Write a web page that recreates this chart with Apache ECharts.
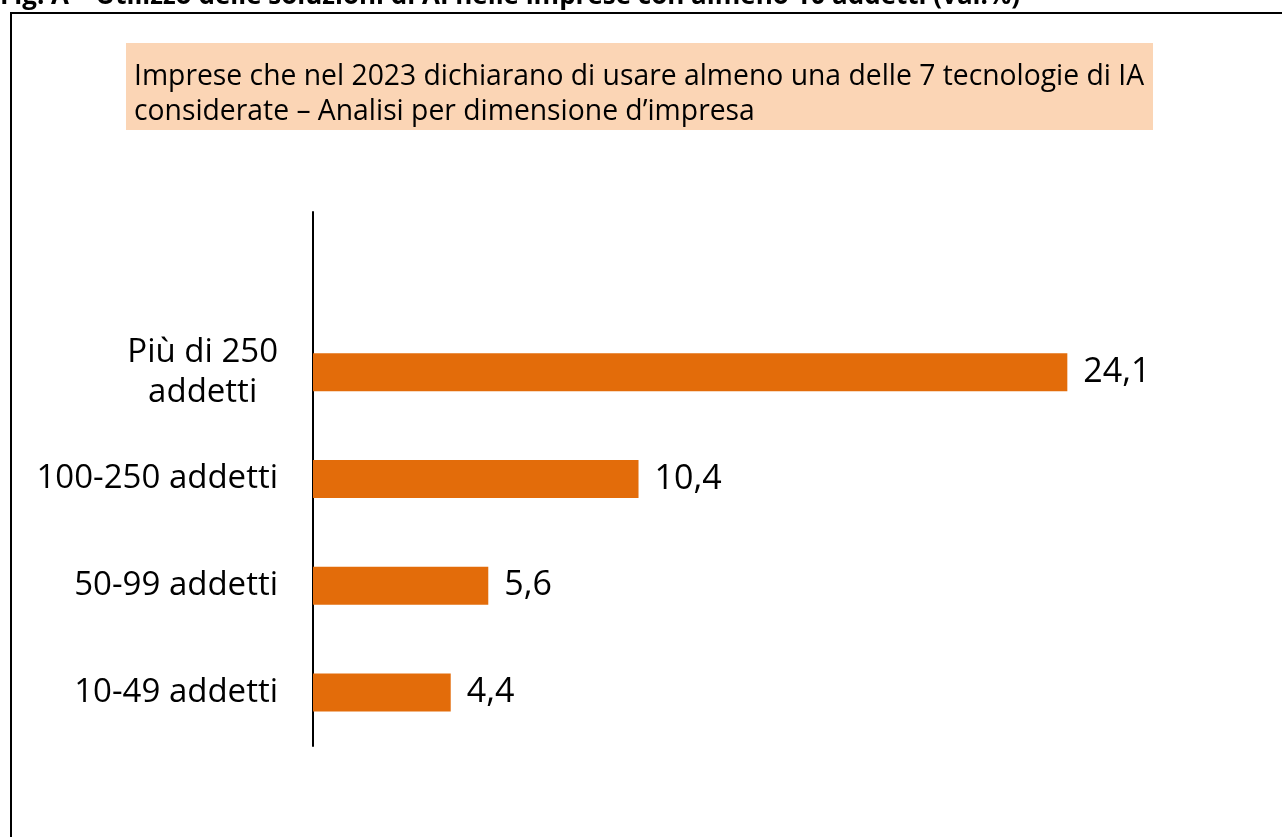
<!DOCTYPE html>
<html>
<head>
<meta charset="utf-8">
<script src="https://cdn.jsdelivr.net/npm/echarts@6/dist/echarts.min.js"></script>
<style>
  html, body { margin: 0; padding: 0; background: #ffffff; }
  #chart { width: 1282px; height: 837px; }
</style>
</head>
<body>
<div id="chart"></div>
<script>
// Firm-size classes (top to bottom); the leading blank slot leaves room above the first bar
const categories = ['', 'Più di 250\naddetti', '100-250 addetti', '50-99 addetti', '10-49 addetti'];
// Share of firms using at least one AI technology in 2023 (%)
const values = [null, 24.1, 10.4, 5.6, 4.4];

const figureTitle = 'Fig. A – Utilizzo delle soluzioni di AI nelle imprese con almeno 10 addetti (val.%)';
const boxTitle = 'Imprese che nel 2023 dichiarano di usare almeno una delle 7 tecnologie di IA\nconsiderate – Analisi per dimensione d’impresa';

const FONT = '"Open Sans", "Noto Sans", sans-serif';

const chart = echarts.init(document.getElementById('chart'), null, { renderer: 'canvas' });

chart.setOption({
  backgroundColor: '#ffffff',
  animation: false,
  textStyle: { fontFamily: FONT },
  graphic: [
    // figure caption, clipped at the top edge
    {
      type: 'text', left: 0, top: -16, z: 10,
      style: { text: figureTitle, font: 'bold 26px ' + FONT, fill: '#000000' }
    },
    // frame around the chart
    {
      type: 'rect', z: 5,
      shape: { x: 11, y: 13, width: 1300, height: 900 },
      style: { fill: 'none', stroke: '#000000', lineWidth: 2 }
    },
    // shaded title box
    {
      type: 'rect', z: 6,
      shape: { x: 126, y: 43, width: 1027, height: 87 },
      style: { fill: '#FBD5B5' }
    },
    {
      type: 'text', x: 134, y: 59, z: 7,
      style: { text: boxTitle, font: '28.3px ' + FONT, fill: '#000000', lineHeight: 35 }
    }
  ],
  grid: { left: 313, right: 30, top: 212, bottom: 91, containLabel: false },
  xAxis: {
    type: 'value', min: 0, max: 30,
    show: false
  },
  yAxis: {
    type: 'category',
    data: categories,
    inverse: true,
    axisLine: { show: true, lineStyle: { color: '#000000', width: 2 } },
    axisTick: { show: false },
    axisLabel: {
      margin: 35,
      color: '#000000',
      fontSize: 33,
      fontFamily: FONT,
      formatter: function (v) {
        return v.split('\n').map(function (s) { return '{c|' + s + '}'; }).join('\n');
      },
      rich: { c: { align: 'center', fontSize: 33, lineHeight: 40, fontFamily: FONT, color: '#000000' } }
    }
  },
  series: [{
    type: 'bar',
    data: values,
    barWidth: 38,
    itemStyle: { color: '#E36C0A' },
    label: {
      show: true,
      position: 'right',
      distance: 16,
      color: '#000000',
      fontSize: 34,
      fontFamily: FONT,
      formatter: function (p) { return p.value == null ? '' : String(p.value.toFixed(1)).replace('.', ','); }
    }
  }]
});
</script>
</body>
</html>
